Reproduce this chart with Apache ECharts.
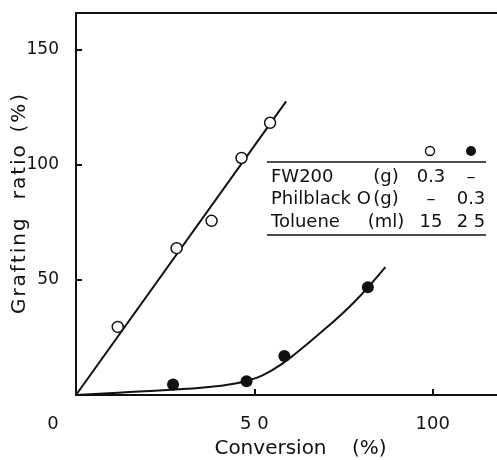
<!DOCTYPE html>
<html>
<head>
<meta charset="utf-8">
<script src="https://cdn.jsdelivr.net/npm/echarts@6/dist/echarts.min.js"></script>
<style>
  html, body { margin: 0; padding: 0; background: #fff; }
  #chart { width: 497px; height: 460px; }
</style>
</head>
<body>
<div id="chart"></div>
<script>
// open circles: FW200 carbon black
const openPoints = [[11.7, 29.6], [28.2, 63.8], [38.0, 75.7], [46.4, 103.0], [54.4, 118.3]];
const openLine = [[0, 0], [58.9, 127.6]];
// filled circles: Philblack O
const filledPoints = [[27.2, 4.6], [47.8, 6.0], [58.4, 16.9], [81.8, 46.8]];
const filledCurve = [[0, 0], [15, 1.3], [30, 2.6], [40, 3.9], [48, 6.2], [55, 10.8],
  [62, 18.6], [70, 29.0], [78, 40.4], [86.7, 55.6]];

const xTicks = { min: 0, max: 118, interval: 50 };
const yTicks = { min: 0, max: 166, interval: 50 };

// table in the plot
const tableRows = [
  ['FW200', '(g)', '0.3', '\u2013'],
  ['Philblack O', '(g)', '\u2013', '0.3'],
  ['Toluene', '(ml)', '15', '2 5']
];

const FONT = 'DejaVu Sans';
const INK = '#111';

// spread letters a little, like the lettering on the original
const spaced = s => s.split('').join('\u200A');

const chart = echarts.init(document.getElementById('chart'), null, { renderer: 'canvas' });

const graphics = [];
const rowY = [177, 199, 222];
const cellFont = '18px "' + FONT + '"';
tableRows.forEach((row, i) => {
  graphics.push({ type: 'text', x: 271, y: rowY[i], style: { text: row[0], font: cellFont,
    fill: INK, verticalAlign: 'middle' } });
  graphics.push({ type: 'text', x: 386, y: rowY[i], style: { text: row[1], font: cellFont,
    fill: INK, align: 'center', verticalAlign: 'middle' } });
  graphics.push({ type: 'text', x: 431, y: rowY[i], style: { text: row[2], font: cellFont,
    fill: INK, align: 'center', verticalAlign: 'middle' } });
  graphics.push({ type: 'text', x: 471, y: rowY[i], style: { text: row[3], font: cellFont,
    fill: INK, align: 'center', verticalAlign: 'middle' } });
});
graphics.push({ type: 'line', shape: { x1: 267, y1: 162, x2: 486, y2: 162 }, style: { stroke: INK, lineWidth: 1.6 } });
graphics.push({ type: 'line', shape: { x1: 267, y1: 235, x2: 486, y2: 235 }, style: { stroke: INK, lineWidth: 1.6 } });
graphics.push({ type: 'circle', shape: { cx: 430, cy: 151, r: 4.5 }, style: { fill: '#fff', stroke: INK, lineWidth: 1.4 } });
graphics.push({ type: 'circle', shape: { cx: 471, cy: 151, r: 5 }, style: { fill: INK } });

const option = {
  backgroundColor: '#fff',
  animation: false,
  textStyle: { fontFamily: FONT },
  grid: { left: 76, right: 0, top: 13, bottom: 65, containLabel: false, outerBoundsMode: 'none' },
  xAxis: [
    {
      type: 'value', min: xTicks.min, max: xTicks.max, interval: xTicks.interval,
      name: 'Conversion    (%)', nameLocation: 'middle', nameGap: 44, nameMoveOverlap: false,
      nameTextStyle: { fontSize: 20, color: INK, padding: [0, 0, 0, 28] },
      axisLine: { show: true, lineStyle: { color: INK, width: 2 } },
      axisTick: { show: true, inside: true, length: 6, lineStyle: { color: INK, width: 2 } },
      splitLine: { show: false },
      axisLabel: {
        color: INK, fontSize: 18, margin: 20, showMaxLabel: false,
        formatter: v => (v === 0 ? '{z|0}' : (v === 50 ? '5 0' : String(v))),
        rich: { z: { fontSize: 18, color: INK, padding: [0, 46, 0, 0] } }
      }
    },
    {
      type: 'value', position: 'top', min: xTicks.min, max: xTicks.max,
      axisLine: { show: true, lineStyle: { color: INK, width: 2 } },
      axisTick: { show: false }, axisLabel: { show: false }, splitLine: { show: false }
    }
  ],
  yAxis: {
    type: 'value', min: yTicks.min, max: yTicks.max, interval: yTicks.interval,
    name: spaced('Grafting') + '   ' + spaced('ratio') + '  ' + spaced('(%)'),
    nameLocation: 'middle', nameGap: 46, nameMoveOverlap: false,
    nameTextStyle: { fontSize: 20, color: INK },
    axisLine: { show: true, lineStyle: { color: INK, width: 2 } },
    axisTick: { show: true, inside: true, length: 6, lineStyle: { color: INK, width: 2 } },
    splitLine: { show: false },
    axisLabel: { color: INK, fontSize: 17, margin: 17, showMaxLabel: false,
      formatter: v => (v === 0 ? '' : String(v)) }
  },
  series: [
    {
      type: 'line', data: openLine, showSymbol: false, silent: true,
      lineStyle: { color: INK, width: 2 }
    },
    {
      type: 'line', data: filledCurve, smooth: 0.45, showSymbol: false, silent: true,
      lineStyle: { color: INK, width: 2 }
    },
    {
      type: 'scatter', data: openPoints, symbol: 'circle', symbolSize: 11,
      itemStyle: { color: '#fff', borderColor: INK, borderWidth: 1.5, opacity: 1 }, z: 5
    },
    {
      type: 'scatter', data: filledPoints, symbol: 'circle', symbolSize: 12,
      itemStyle: { color: INK, opacity: 1 }, z: 5
    }
  ],
  graphic: graphics
};

chart.setOption(option);
window.addEventListener('resize', () => chart.resize());
</script>
</body>
</html>
